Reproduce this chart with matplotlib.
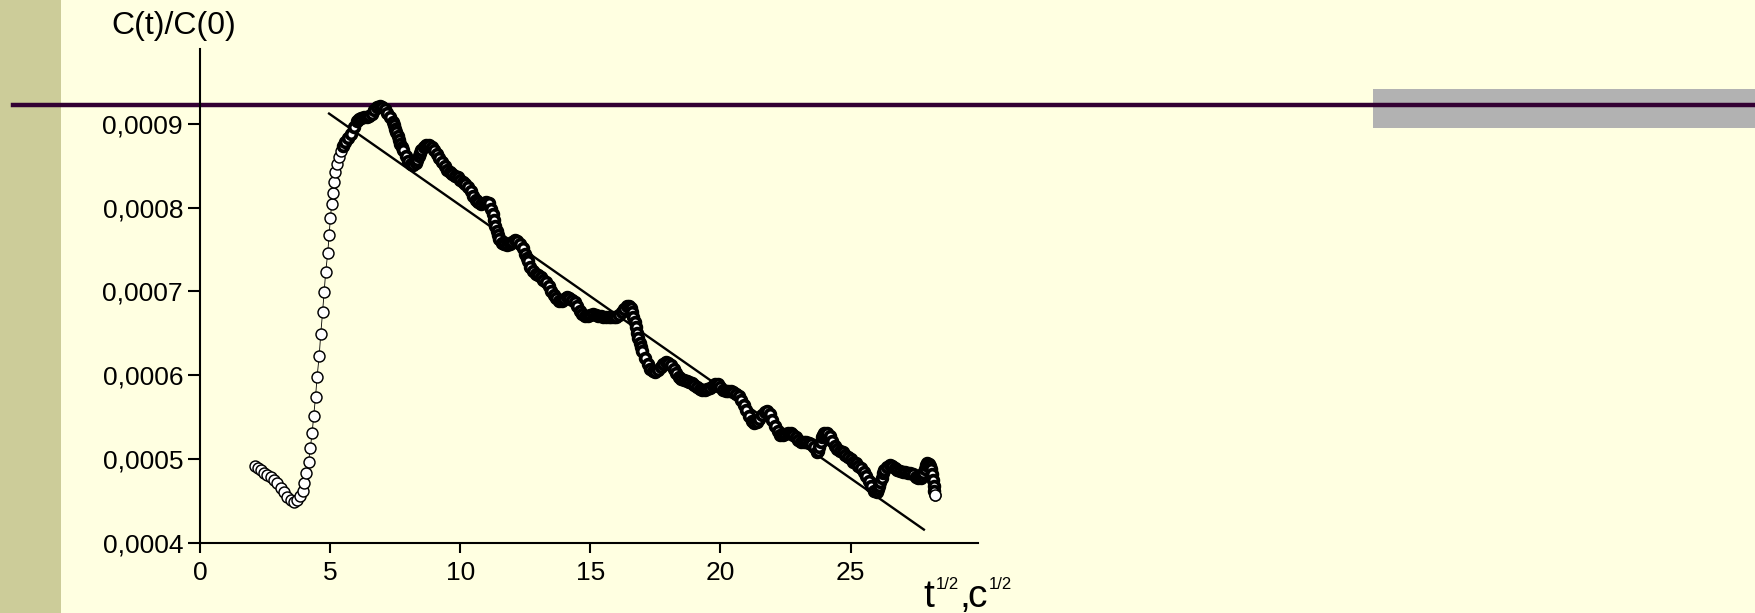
import numpy as np
import matplotlib
matplotlib.use('Agg')
import matplotlib.pyplot as plt
from matplotlib.patches import Rectangle
from matplotlib.lines import Line2D

plt.rcParams['font.family'] = ['Liberation Sans', 'DejaVu Sans']

# ---------------- data ----------------
# x = t^(1/2), y = C(t)/C(0) in units of 1e-4
x_pts = [2.12, 2.22, 2.33, 2.46, 2.59, 2.72, 2.85, 2.97, 3.10, 3.23, 3.36, 3.49, 3.62, 3.74,
         3.85, 3.94, 4.01, 4.09, 4.17, 4.24, 4.31, 4.37, 4.44, 4.50, 4.58, 4.64, 4.71, 4.77,
         4.83, 4.91, 4.96, 5.01, 5.06, 5.12, 5.15, 5.20, 5.27, 5.33, 5.41, 5.49, 5.58, 5.68,
         5.80, 5.90, 6.03, 6.10, 6.20, 6.30, 6.40, 6.50, 6.60, 6.70, 6.80, 6.90,
         7.00, 7.10, 7.20, 7.30, 7.40, 7.45, 7.50, 7.55, 7.60, 7.65, 7.70, 7.75, 7.80, 7.90,
         8.00, 8.10, 8.20, 8.30, 8.35, 8.40, 8.45, 8.50, 8.60, 8.70, 8.80, 8.90,
         9.00, 9.10, 9.20, 9.30, 9.40, 9.50, 9.60, 9.70, 9.80, 9.90,
         10.0, 10.1, 10.2, 10.3, 10.4, 10.5, 10.6, 10.7, 10.8, 10.9,
         11.0, 11.1, 11.2, 11.25, 11.3, 11.35, 11.4, 11.45, 11.5, 11.6, 11.7, 11.8, 11.9,
         12.0, 12.1, 12.2, 12.3, 12.4, 12.5, 12.55, 12.6, 12.7, 12.8, 12.9,
         13.0, 13.1, 13.2, 13.3, 13.4, 13.5, 13.6, 13.7, 13.8, 13.9,
         14.0, 14.1, 14.2, 14.3, 14.4, 14.5, 14.6, 14.7, 14.8, 14.9,
         15.0, 15.1, 15.2, 15.3, 15.4, 15.5, 15.6, 15.7, 15.8, 15.9,
         16.0, 16.1, 16.2, 16.3, 16.4, 16.5, 16.55, 16.6, 16.65, 16.7, 16.75, 16.8, 16.85,
         16.9, 16.95,
         17.0, 17.1, 17.2, 17.3, 17.4, 17.5, 17.6, 17.7, 17.8, 17.9,
         18.0, 18.1, 18.2, 18.3, 18.4, 18.5, 18.6, 18.7, 18.8, 18.9,
         19.0, 19.1, 19.2, 19.3, 19.4, 19.5, 19.6, 19.7, 19.8, 19.9,
         20.0, 20.1, 20.2, 20.3, 20.4, 20.5, 20.6, 20.7, 20.8, 20.9,
         21.0, 21.1, 21.2, 21.3, 21.4, 21.5, 21.6, 21.7, 21.8, 21.9,
         22.0, 22.1, 22.2, 22.3, 22.4, 22.5, 22.6, 22.7, 22.8, 22.9,
         23.0, 23.1, 23.2, 23.3, 23.4, 23.5, 23.6, 23.7, 23.75, 23.8, 23.85, 23.9, 23.95,
         24.0, 24.1, 24.2, 24.3, 24.4, 24.5, 24.6, 24.7, 24.8, 24.9,
         25.0, 25.1, 25.2, 25.3, 25.4, 25.5, 25.6, 25.7, 25.8, 25.9,
         26.0, 26.05, 26.1, 26.15, 26.2, 26.25, 26.3, 26.4, 26.5, 26.6, 26.7, 26.8, 26.9,
         27.0, 27.1, 27.2, 27.3, 27.4, 27.5, 27.6, 27.7, 27.75, 27.8, 27.85, 27.9, 27.95,
         28.0, 28.05, 28.1, 28.13, 28.16, 28.19, 28.22, 28.24]

y_pts = [4.92, 4.90, 4.87, 4.84, 4.81, 4.79, 4.75, 4.71, 4.66, 4.61, 4.55, 4.51, 4.49, 4.51,
         4.56, 4.62, 4.72, 4.83, 4.96, 5.13, 5.31, 5.52, 5.74, 5.98, 6.23, 6.49, 6.75, 6.99,
         7.23, 7.46, 7.67, 7.87, 8.04, 8.17, 8.31, 8.42, 8.52, 8.60, 8.67, 8.73, 8.78, 8.83,
         8.88, 8.96, 9.03, 9.05, 9.07, 9.08, 9.08, 9.09, 9.12, 9.16, 9.20, 9.21,
         9.20, 9.17, 9.13, 9.08, 9.02, 8.98, 8.94, 8.90, 8.85, 8.80, 8.76, 8.72, 8.68, 8.61,
         8.55, 8.52, 8.51, 8.53, 8.57, 8.61, 8.65, 8.68, 8.72, 8.74, 8.74, 8.72,
         8.69, 8.64, 8.59, 8.54, 8.49, 8.45, 8.42, 8.40, 8.38, 8.36,
         8.33, 8.30, 8.28, 8.25, 8.20, 8.14, 8.09, 8.06, 8.04, 8.05,
         8.07, 8.05, 7.98, 7.92, 7.85, 7.78, 7.72, 7.67, 7.63, 7.58, 7.56, 7.55, 7.56,
         7.59, 7.61, 7.60, 7.57, 7.52, 7.44, 7.40, 7.36, 7.29, 7.24, 7.21,
         7.19, 7.17, 7.14, 7.11, 7.07, 7.01, 6.96, 6.92, 6.89, 6.89,
         6.91, 6.93, 6.92, 6.90, 6.87, 6.82, 6.77, 6.73, 6.71, 6.71,
         6.72, 6.73, 6.72, 6.71, 6.71, 6.70, 6.70, 6.70, 6.69, 6.69,
         6.70, 6.72, 6.75, 6.79, 6.82, 6.82, 6.80, 6.75, 6.70, 6.64, 6.57, 6.50, 6.44,
         6.39, 6.34,
         6.29, 6.20, 6.13, 6.08, 6.05, 6.04, 6.06, 6.10, 6.14, 6.16,
         6.15, 6.12, 6.08, 6.03, 5.98, 5.95, 5.94, 5.93, 5.92, 5.91,
         5.88, 5.86, 5.84, 5.83, 5.83, 5.84, 5.85, 5.87, 5.89, 5.89,
         5.86, 5.83, 5.81, 5.81, 5.81, 5.80, 5.78, 5.75, 5.71, 5.65,
         5.59, 5.52, 5.46, 5.43, 5.44, 5.48, 5.53, 5.56, 5.57, 5.54,
         5.47, 5.40, 5.33, 5.29, 5.29, 5.30, 5.31, 5.31, 5.29, 5.26,
         5.23, 5.21, 5.20, 5.20, 5.19, 5.18, 5.14, 5.09, 5.10, 5.14, 5.20, 5.26, 5.29,
         5.31, 5.31, 5.27, 5.22, 5.16, 5.12, 5.10, 5.08, 5.05, 5.03,
         5.00, 4.97, 4.95, 4.92, 4.89, 4.85, 4.80, 4.74, 4.68, 4.62,
         4.61, 4.64, 4.68, 4.73, 4.78, 4.83, 4.87, 4.91, 4.93, 4.92, 4.89, 4.87, 4.86,
         4.85, 4.85, 4.84, 4.83, 4.82, 4.79, 4.77, 4.78, 4.80, 4.84, 4.88, 4.93, 4.95,
         4.94, 4.92, 4.88, 4.82, 4.75, 4.68, 4.62, 4.57]

# linear fit, end points
fit_x = [4.96, 27.82]
fit_y = [9.12, 4.16]

y_scale = 1e-4
x_ticks = [0, 5, 10, 15, 20, 25]
y_ticks = [0.0004, 0.0005, 0.0006, 0.0007, 0.0008, 0.0009]
y_tick_labels = ['0,0004', '0,0005', '0,0006', '0,0007', '0,0008', '0,0009']

# ---------------- figure ----------------
W, H = 1756, 613
bg = '#FFFFE1'
fig = plt.figure(figsize=(W / 100, H / 100), dpi=100, facecolor=bg)

def fx(px):
    return px / W

def fy(py):
    return 1 - py / H

# slide decoration
fig.add_artist(Rectangle((0, 0), fx(61), 1, transform=fig.transFigure,
                         facecolor='#CCCC99', edgecolor='none', zorder=-3))
fig.add_artist(Rectangle((fx(1373), fy(128)), fx(W - 1373), 39 / H, transform=fig.transFigure,
                         facecolor='#B2B2B2', edgecolor='none', zorder=-2))
fig.add_artist(Line2D([fx(13), 1], [fy(105), fy(105)], transform=fig.transFigure,
                      color='#330033', lw=3.2, zorder=-1))

ax = fig.add_axes([fx(200), 70 / H, fx(778), 494 / H])
ax.patch.set_visible(False)

x = np.array(x_pts)
y = np.array(y_pts) * y_scale
ax.plot(np.array(fit_x), np.array(fit_y) * y_scale, color='k', lw=1.7, zorder=2)
# all points, thin rings joined by a thin line
ax.plot(x, y, 'o-', color='k', lw=0.6, ms=7.9, mfc='white', mec='k', mew=1.05, zorder=3)
# the densely sampled part looks almost solid black in the original
dense = x >= 5.45
dense[-1] = False
ax.plot(x[dense], y[dense], 'o', ls='none', ms=7.0, mfc='white', mec='k', mew=2.7, zorder=4)
ax.plot(x[-1:], y[-1:], 'o', ls='none', ms=7.9, mfc='white', mec='k', mew=1.05, zorder=5)

ax.set_xlim(0, 29.9)
ax.set_ylim(0.0004, 0.000989)
for s in ['top', 'right']:
    ax.spines[s].set_visible(False)
for s in ['left', 'bottom']:
    ax.spines[s].set_linewidth(1.5)
    ax.spines[s].set_zorder(1)

ax.set_xticks(x_ticks)
ax.set_xticklabels([str(v) for v in x_ticks])
ax.set_yticks(y_ticks)
ax.set_yticklabels(y_tick_labels)
ax.tick_params(axis='y', direction='out', length=8.6, width=1.5, pad=3.6, labelsize=19)
ax.tick_params(axis='x', direction='out', length=7.2, width=1.5, pad=6.0, labelsize=19)

# axis titles
fig.text(fx(174), fy(26), 'C(t)/C(0)', fontsize=23, ha='center', va='center')
fig.text(fx(923), fy(607), 't', fontsize=28, ha='left', va='baseline')
fig.text(fx(936), fy(589), '1/2', fontsize=12, ha='left', va='baseline')
fig.text(fx(959), fy(607), ',', fontsize=28, ha='left', va='baseline')
fig.text(fx(967), fy(607), 'c', fontsize=28, ha='left', va='baseline')
fig.text(fx(989), fy(589), '1/2', fontsize=12, ha='left', va='baseline')

fig.savefig('out.png', dpi=100, facecolor=bg)
